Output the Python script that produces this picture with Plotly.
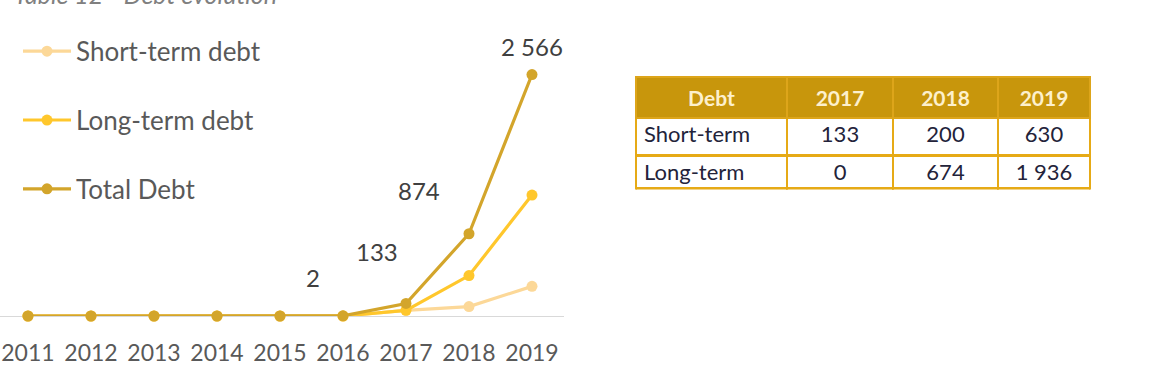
import plotly.graph_objects as go

years = ["2011", "2012", "2013", "2014", "2015", "2016", "2017", "2018", "2019"]
short_term = [0, 0, 0, 0, 0, 0, 60, 100, 315]
long_term = [0, 0, 0, 0, 0, 0, 60, 430, 1285]
total_debt = [0, 0, 0, 0, 0, 2, 133, 874, 2566]

label_years = ["2016", "2017", "2018", "2019"]
label_values = [2, 133, 874, 2566]
label_texts = ["2", "133", "874", "2 566"]
label_xshift = [-30, -29, -50, 0]
label_yshift = [38, 52, 43, 28]

tbl_header = ["Debt", "2017", "2018", "2019"]
tbl_rows = ["Short-term", "Long-term"]
tbl_2017 = ["133", "0"]
tbl_2018 = ["200", "674"]
tbl_2019 = ["630", "1 936"]

W, H = 1156, 366
MB = 48
PH = H - MB

FONT = "Lato"
C_SHORT = "#FCD898"
C_LONG = "#FFC72C"
C_TOTAL = "#D3A52B"
C_BORDER = "#E6AA16"

fig = go.Figure()
for name, vals, col in [("Short-term debt", short_term, C_SHORT),
                        ("Long-term debt", long_term, C_LONG),
                        ("Total Debt", total_debt, C_TOTAL)]:
    fig.add_trace(go.Scatter(
        x=years, y=vals, name=name, mode="lines+markers",
        line=dict(color=col, width=3.2),
        marker=dict(color=col, size=11),
        cliponaxis=False, legendgroup=name,
        hoverinfo="skip",
    ))

for yr, v, t, dx, dy in zip(label_years, label_values, label_texts, label_xshift, label_yshift):
    fig.add_annotation(x=years.index(yr), y=v, xref="x", yref="y", text=t, showarrow=False,
                       xshift=dx, yshift=dy, font=dict(family=FONT, size=24, color="#404040"))

# title (cut at top)
fig.add_annotation(x=12 / W, y=(PH - 11) / PH, xref="paper", yref="paper",
                   xanchor="left", yanchor="bottom", showarrow=False,
                   text="<i>Table 12 - Debt evolution</i>",
                   font=dict(family=FONT, size=25, color="#808080"))

tx0, tx1 = 636 / W, 1090 / W
ty0, ty1 = (PH - 191) / PH, (PH - 77) / PH
fig.add_trace(go.Table(
    domain=dict(x=[tx0, tx1], y=[ty0, ty1]),
    columnwidth=[151, 106, 105, 92],
    header=dict(values=[f"<b>{h}</b>" for h in tbl_header],
                fill_color="#C8960C", line=dict(color="#DDA51A", width=2),
                font=dict(family=FONT, size=21, color="#FDF0CC"),
                align="center", height=36),
    cells=dict(values=[tbl_rows, tbl_2017, tbl_2018, tbl_2019],
               fill_color="white", line=dict(color=C_BORDER, width=2.5),
               font=dict(family=FONT, size=22, color="#23233A"),
               align=["left", "center", "center", "center"], height=38),
))
# bottom border of the table
fig.add_shape(type="line", xref="paper", yref="paper", x0=tx0, x1=tx1,
              y0=(PH - 189.5) / PH, y1=(PH - 189.5) / PH,
              line=dict(color=C_BORDER, width=2.5))

fig.update_layout(
    width=W, height=H,
    margin=dict(l=0, r=0, t=0, b=MB),
    paper_bgcolor="white", plot_bgcolor="white",
    showlegend=True,
    legend=dict(x=18 / W, y=(PH - 28) / PH, xanchor="left", yanchor="top",
                font=dict(family=FONT, size=26, color="#595959"),
                tracegroupgap=32, itemwidth=48, bgcolor="rgba(0,0,0,0)"),
    xaxis=dict(domain=[0, 564 / W], type="category", range=[-0.444, 8.508],
               showgrid=False, zeroline=False, showline=True, linecolor="#D9D9D9",
               linewidth=1, layer="below traces", ticks="", ticklabelstandoff=16,
               tickfont=dict(family=FONT, size=23, color="#595959")),
    yaxis=dict(range=[0, 2566 * PH / 243], visible=False, showgrid=False, zeroline=False),
    hovermode=False,
)

fig.write_html("out.html")
